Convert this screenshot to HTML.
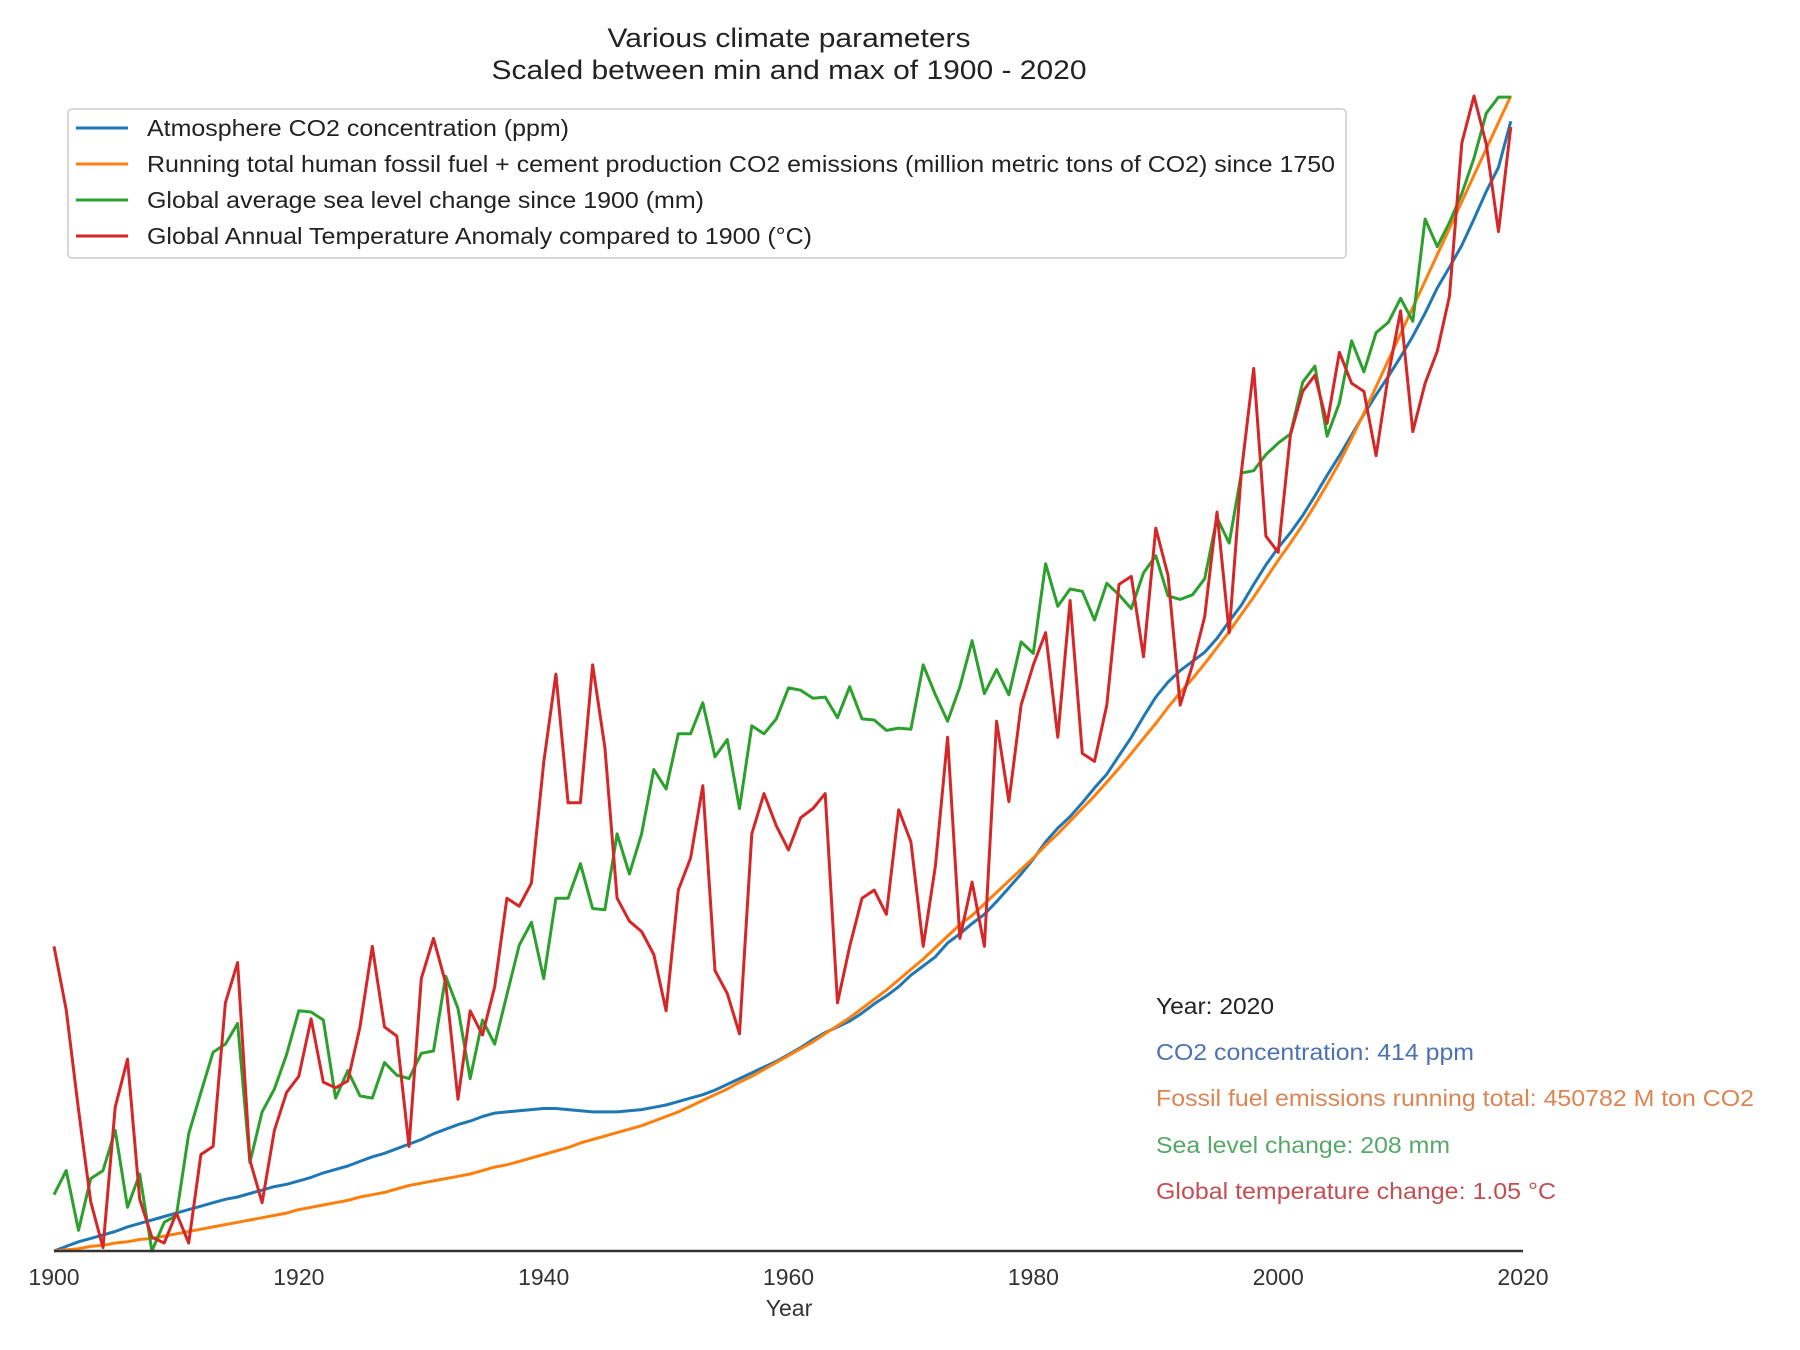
<!DOCTYPE html>
<html><head><meta charset="utf-8"><style>
html,body{margin:0;padding:0;background:#fff;}
svg{display:block;font-family:"Liberation Sans",Arial,sans-serif;}
</style></head><body>
<svg id="chart" width="1800" height="1350" viewBox="0 0 1800 1350">
<text x="789" y="47" text-anchor="middle" font-size="27" textLength="363" lengthAdjust="spacingAndGlyphs" fill="#222">Various climate parameters</text>
<text x="789" y="79" text-anchor="middle" font-size="27" textLength="595" lengthAdjust="spacingAndGlyphs" fill="#222">Scaled between min and max of 1900 - 2020</text>
<g id="plot"></g>
<line x1="54" y1="1251" x2="1523" y2="1251" stroke="#333" stroke-width="2.5"/>
<g id="xticks"></g>
<text x="789" y="1316" text-anchor="middle" font-size="23" fill="#333">Year</text>
<g>
<rect x="68" y="109" width="1278" height="149" rx="4" fill="#fff" fill-opacity="0.85" stroke="#ccc" stroke-width="1.5"/>
<line x1="76" y1="128" x2="128" y2="128" stroke="#1f77b4" stroke-width="3"/>
<text x="147" y="136" font-size="23" textLength="422" lengthAdjust="spacingAndGlyphs" fill="#222">Atmosphere CO2 concentration (ppm)</text>
<line x1="76" y1="164" x2="128" y2="164" stroke="#ff7f0e" stroke-width="3"/>
<text x="147" y="172" font-size="23" textLength="1188" lengthAdjust="spacingAndGlyphs" fill="#222">Running total human fossil fuel + cement production CO2 emissions (million metric tons of CO2) since 1750</text>
<line x1="76" y1="200" x2="128" y2="200" stroke="#2ca02c" stroke-width="3"/>
<text x="147" y="208" font-size="23" textLength="557" lengthAdjust="spacingAndGlyphs" fill="#222">Global average sea level change since 1900 (mm)</text>
<line x1="76" y1="236" x2="128" y2="236" stroke="#d62728" stroke-width="3"/>
<text x="147" y="244" font-size="23" textLength="665" lengthAdjust="spacingAndGlyphs" fill="#222">Global Annual Temperature Anomaly compared to 1900 (°C)</text>
</g>
<g font-size="23">
<text x="1156" y="1014" textLength="118" lengthAdjust="spacingAndGlyphs" fill="#222">Year: 2020</text>
<text x="1156" y="1060" textLength="318" lengthAdjust="spacingAndGlyphs" fill="#4c72b0">CO2 concentration: 414 ppm</text>
<text x="1156" y="1106" textLength="598" lengthAdjust="spacingAndGlyphs" fill="#dd8452">Fossil fuel emissions running total: 450782 M ton CO2</text>
<text x="1156" y="1153" textLength="294" lengthAdjust="spacingAndGlyphs" fill="#55a868">Sea level change: 208 mm</text>
<text x="1156" y="1199" textLength="400" lengthAdjust="spacingAndGlyphs" fill="#c44e52">Global temperature change: 1.05 °C</text>
</g>
</svg>
<script>
const startYear = 1900;
const tickYears = [1900, 1920, 1940, 1960, 1980, 2000, 2020];
// scaled values (0 = min, 1005 = max of 1900-2020)
const co2 = [0,4,8,11,14,17,21,24,27,30,33,36,39,42,45,47,50,53,56,58,61,64,68,71,74,78,82,85,89,93,97,102,106,110,113,117,120,121,122,123,124,124,123,122,121,121,121,122,123,125,127,130,133,136,140,145,150,155,160,165,171,177,184,190,195,200,207,215,222,230,240,248,256,268,276,285,293,304,316,328,341,356,368,378,390,403,415,431,447,465,482,495,505,513,521,533,548,562,580,597,612,625,640,657,675,692,710,728,745,761,778,796,816,838,856,875,898,922,943,983];
const emissions = [0,1,2,4,5,7,8,10,11,13,15,17,19,21,23,25,27,29,31,33,36,38,40,42,44,47,49,51,54,57,59,61,63,65,67,70,73,75,78,81,84,87,90,94,97,100,103,106,109,113,117,121,126,131,136,141,147,152,158,164,170,176,182,189,196,203,211,219,227,236,245,254,264,274,284,292,302,312,322,332,342,353,363,374,385,396,408,420,433,446,459,473,486,498,511,525,539,554,569,585,601,616,632,649,667,686,707,729,752,775,798,821,844,867,890,913,936,959,982,1005];
const seaLevel = [49,70,18,63,70,105,38,67,0,25,31,102,138,173,180,198,77,121,141,171,209,208,201,133,157,135,133,164,153,150,172,174,239,211,150,201,180,223,266,286,237,307,307,337,298,297,363,328,363,419,402,450,450,477,430,445,385,457,450,463,490,488,481,482,464,491,463,462,453,455,454,510,484,461,491,531,485,506,484,530,520,598,561,576,574,549,581,571,559,590,605,570,567,571,585,638,616,677,679,693,703,711,756,770,709,738,792,765,799,808,829,809,898,874,895,920,951,990,1004,1004];
const temperature = [265,210,123,43,3,125,167,45,12,7,33,7,84,91,216,251,79,42,105,138,152,202,147,142,148,195,265,195,187,91,237,272,233,132,209,188,230,307,300,320,425,502,390,390,510,438,307,287,278,258,209,314,342,405,244,224,189,363,398,370,349,377,385,398,216,265,307,314,293,384,356,265,335,447,272,321,265,461,391,475,510,538,447,566,433,426,475,580,587,517,629,588,475,510,552,643,538,678,768,622,608,710,748,762,720,782,755,748,692,762,818,713,755,783,831,964,1005,963,887,978];

const X0 = 54, X1 = 1523, Y0 = 1251, Y1 = 96;
function xScale(year){ return X0 + (year - 1900) * (X1 - X0) / 120; }
function yScale(v){ return Y0 - v * (Y0 - Y1) / 1005; }
const NS = 'http://www.w3.org/2000/svg';
const plot = document.getElementById('plot');
const seriesList = [
  {vals: co2, color: '#1f77b4', name: 'line-co2'},
  {vals: emissions, color: '#ff7f0e', name: 'line-emissions'},
  {vals: seaLevel, color: '#2ca02c', name: 'line-sea-level'},
  {vals: temperature, color: '#d62728', name: 'line-temperature'}
];
seriesList.forEach(s => {
  const p = document.createElementNS(NS, 'polyline');
  p.setAttribute('points', s.vals.map((v, i) => xScale(startYear + i).toFixed(1) + ',' + yScale(v).toFixed(1)).join(' '));
  p.setAttribute('fill', 'none');
  p.setAttribute('stroke', s.color);
  p.setAttribute('stroke-width', '3');
  p.setAttribute('stroke-linejoin', 'round');
  
  
  plot.appendChild(p);
});
const xt = document.getElementById('xticks');
tickYears.forEach(y => {
  const t = document.createElementNS(NS, 'text');
  t.setAttribute('x', xScale(y));
  t.setAttribute('y', 1285);
  t.setAttribute('text-anchor', 'middle');
  t.setAttribute('font-size', '23');
  t.setAttribute('fill', '#333');
  t.textContent = y;
  
  
  xt.appendChild(t);
});
</script>
</body></html>
